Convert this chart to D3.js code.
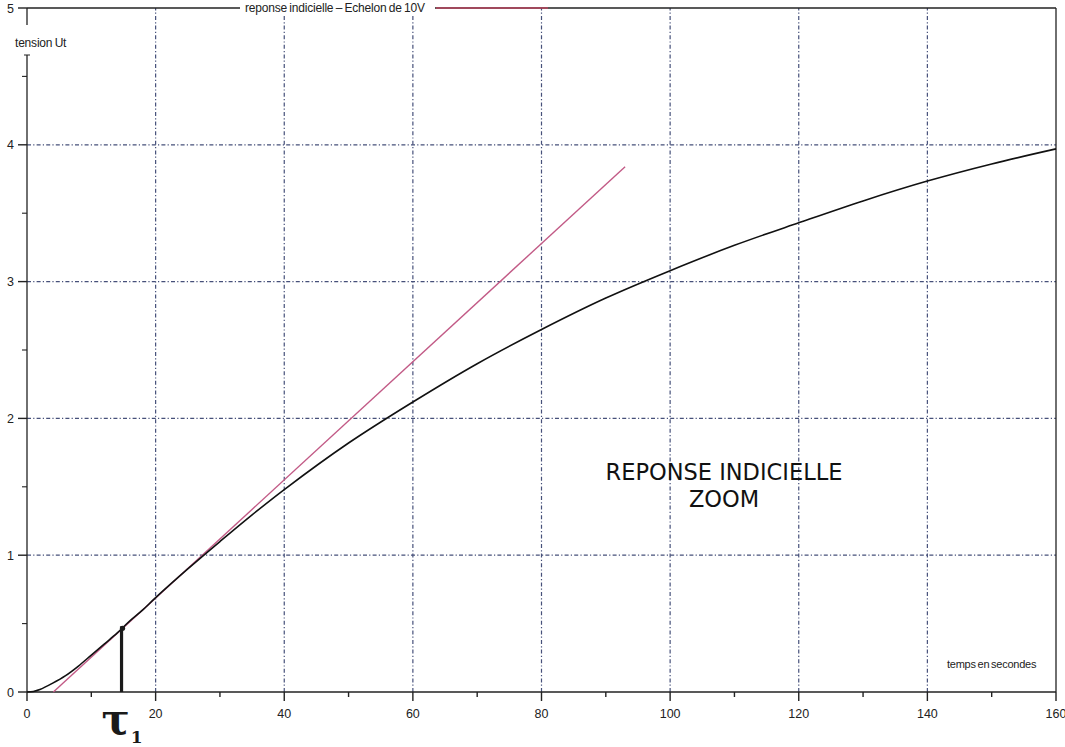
<!DOCTYPE html>
<html>
<head>
<meta charset="utf-8">
<script src="https://cdn.jsdelivr.net/npm/d3@7"></script>
<style>
  html, body { margin: 0; padding: 0; background: #fff; }
  svg { display: block; }
</style>
</head>
<body>
<svg id="chart" width="1065" height="747"></svg>
<script>
// Step response (10 V step): time in seconds, measured voltage Ut
const time    = [0, 1, 2, 4, 6, 8, 10, 12, 14, 16, 18, 20, 25, 30, 35, 40, 50, 60, 70, 80, 90, 100, 110, 120, 130, 140, 150, 160];
const tension = [0, 0.004, 0.018, 0.065, 0.12, 0.19, 0.27, 0.35, 0.43, 0.52, 0.60, 0.69, 0.90, 1.10, 1.295, 1.48, 1.82, 2.12, 2.40, 2.65, 2.88, 3.08, 3.265, 3.43, 3.59, 3.735, 3.86, 3.97];

// Tangent at the inflection point (start and end of the drawn segment)
const tangentT = [4.1, 93];
const tangentU = [0.0, 3.84];

// Time constant tau1 read on the curve
const tau1 = 14.7;
const tau1U = 0.48;

// Axis ticks
const xMajor = [0, 20, 40, 60, 80, 100, 120, 140, 160];
const xMinor = [10, 30, 50, 70, 90, 110, 130, 150];
const yMajor = [0, 1, 2, 3, 4, 5];
const yMinor = [0.5, 1.5, 2.5, 3.5, 4.5];
const xGrid = [20, 40, 60, 80, 100, 120, 140];
const yGrid = [1, 2, 3, 4];

const svg = d3.select("#chart");
const x = d3.scaleLinear().domain([0, 160]).range([27, 1056]);
const y = d3.scaleLinear().domain([0, 5]).range([692, 8]);

const tickFont = "'Liberation Sans Narrow', 'Liberation Sans', Arial, sans-serif";
const gridColor = "#46507a";
const dash = "4,2.2,1.2,2.2";

// Grid lines
svg.append("g").selectAll("line").data(xGrid).join("line")
  .attr("x1", d => x(d)).attr("x2", d => x(d))
  .attr("y1", y(0)).attr("y2", y(5))
  .attr("stroke", gridColor).attr("stroke-width", 1.2)
  .attr("stroke-dasharray", dash);
svg.append("g").selectAll("line").data(yGrid).join("line")
  .attr("x1", x(0)).attr("x2", x(160))
  .attr("y1", d => y(d)).attr("y2", d => y(d))
  .attr("stroke", gridColor).attr("stroke-width", 1.2)
  .attr("stroke-dasharray", dash);

// Frame: top and right borders
svg.append("line").attr("x1", x(0)).attr("x2", x(160))
  .attr("y1", y(5)).attr("y2", y(5))
  .attr("stroke", "#222").attr("stroke-width", 1.3);
svg.append("line").attr("x1", x(160)).attr("x2", x(160))
  .attr("y1", y(5)).attr("y2", y(0))
  .attr("stroke", "#222").attr("stroke-width", 1.3);

// Legend on the top border
const legend = svg.append("g");
legend.append("rect").attr("x", 240).attr("y", 1).attr("width", 195).attr("height", 14).attr("fill", "#fff");
legend.append("text").attr("x", 245).attr("y", 12)
  .attr("font-family", tickFont).attr("font-size", 12)
  .attr("letter-spacing", -0.2).attr("word-spacing", -0.8)
  .attr("fill", "#222")
  .text("reponse indicielle – Echelon de 10V");
legend.append("line").attr("x1", 436).attr("x2", 548)
  .attr("y1", y(5)).attr("y2", y(5))
  .attr("stroke", "#b8455e").attr("stroke-width", 1.4);

// X axis
const xAxisG = svg.append("g");
xAxisG.append("line").attr("x1", x(0)).attr("x2", x(160))
  .attr("y1", y(0)).attr("y2", y(0))
  .attr("stroke", "#222").attr("stroke-width", 1.4);
xAxisG.selectAll(".maj").data(xMajor).join("line").attr("class", "maj")
  .attr("x1", d => x(d)).attr("x2", d => x(d))
  .attr("y1", y(0)).attr("y2", y(0) + 9)
  .attr("stroke", "#222").attr("stroke-width", 1.4);
xAxisG.selectAll(".min").data(xMinor).join("line").attr("class", "min")
  .attr("x1", d => x(d)).attr("x2", d => x(d))
  .attr("y1", y(0)).attr("y2", y(0) + 5)
  .attr("stroke", "#222").attr("stroke-width", 1.4);
xAxisG.selectAll("text").data(xMajor).join("text")
  .attr("x", d => x(d)).attr("y", y(0) + 26)
  .attr("text-anchor", "middle")
  .attr("font-family", tickFont).attr("font-size", 12.5)
  .attr("fill", "#222")
  .text(d => d);

// Y axis (broken around its title)
const yAxisG = svg.append("g");
yAxisG.append("line").attr("x1", x(0)).attr("x2", x(0))
  .attr("y1", y(5)).attr("y2", 25)
  .attr("stroke", "#222").attr("stroke-width", 1.3);
yAxisG.append("line").attr("x1", x(0)).attr("x2", x(0))
  .attr("y1", 55).attr("y2", y(0))
  .attr("stroke", "#222").attr("stroke-width", 1.3);
yAxisG.append("line").attr("x1", x(0) - 3).attr("x2", x(0) + 3)
  .attr("y1", 55).attr("y2", 55)
  .attr("stroke", "#222").attr("stroke-width", 1);
yAxisG.selectAll(".maj").data(yMajor).join("line").attr("class", "maj")
  .attr("x1", x(0) - 9).attr("x2", x(0))
  .attr("y1", d => y(d)).attr("y2", d => y(d))
  .attr("stroke", "#222").attr("stroke-width", 1.4);
yAxisG.selectAll(".min").data(yMinor).join("line").attr("class", "min")
  .attr("x1", x(0) - 5).attr("x2", x(0))
  .attr("y1", d => y(d)).attr("y2", d => y(d))
  .attr("stroke", "#222").attr("stroke-width", 1.1);
yAxisG.selectAll("text").data(yMajor).join("text")
  .attr("x", x(0) - 13).attr("y", d => y(d) + 4.5)
  .attr("text-anchor", "end")
  .attr("font-family", tickFont).attr("font-size", 12.5)
  .attr("fill", "#222")
  .text(d => d);

// Axis titles
svg.append("text").attr("x", 15).attr("y", 47)
  .attr("font-family", tickFont).attr("font-size", 12)
  .attr("letter-spacing", -0.2).attr("word-spacing", -0.8)
  .attr("fill", "#222").text("tension Ut");
svg.append("text").attr("x", 947).attr("y", 668)
  .attr("font-family", tickFont).attr("font-size", 11)
  .attr("letter-spacing", -0.25).attr("word-spacing", -1)
  .attr("fill", "#222").text("temps en secondes");

// Tangent line
const tangent = tangentT.map((t, i) => [t, tangentU[i]]);
svg.append("path").datum(tangent)
  .attr("d", d3.line().x(d => x(d[0])).y(d => y(d[1])))
  .attr("fill", "none").attr("stroke", "#c25a86").attr("stroke-width", 1.4);

// Step response curve
const pts = time.map((t, i) => [t, tension[i]]);
svg.append("path").datum(pts)
  .attr("d", d3.line().x(d => x(d[0])).y(d => y(d[1])).curve(d3.curveCatmullRom.alpha(0.5)))
  .attr("fill", "none").attr("stroke", "#111").attr("stroke-width", 1.6);

// tau1 marker
svg.append("line").attr("x1", x(tau1)).attr("x2", x(tau1))
  .attr("y1", y(0)).attr("y2", y(tau1U))
  .attr("stroke", "#1a1a1a").attr("stroke-width", 3.2);
svg.append("circle").attr("cx", x(tau1) + 1).attr("cy", y(tau1U) + 2).attr("r", 2.6).attr("fill", "#1a1a1a");
const tauLabel = svg.append("text").attr("x", x(tau1) - 20).attr("y", 734)
  .attr("font-family", "'DejaVu Serif', serif").attr("font-size", 42)
  .attr("font-weight", "bold")
  .attr("fill", "#1a1a1a");
tauLabel.append("tspan").text("τ");
tauLabel.append("tspan").attr("font-size", 17).attr("dy", 9).attr("dx", 1).text("1");

// Annotation text
const note = svg.append("text").attr("text-anchor", "middle")
  .attr("font-family", "'DejaVu Sans', sans-serif").attr("font-size", 22.5)
  .attr("fill", "#111");
note.append("tspan").attr("x", 724).attr("y", 480).text("REPONSE INDICIELLE");
note.append("tspan").attr("x", 724).attr("y", 507).text("ZOOM");
</script>
</body>
</html>
